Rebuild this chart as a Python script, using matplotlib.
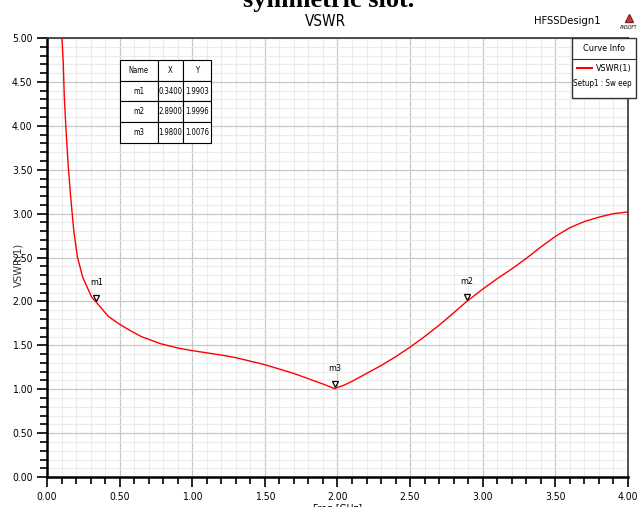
import matplotlib
matplotlib.use("Agg")
import matplotlib.pyplot as plt
import numpy as np
from matplotlib.ticker import MultipleLocator, FormatStrFormatter
from matplotlib.lines import Line2D
from matplotlib.patches import Rectangle

# VSWR(1) curve
freq = [0.100, 0.112, 0.119, 0.131, 0.145, 0.163, 0.184, 0.209, 0.245, 0.307, 0.34,
        0.422, 0.50, 0.571, 0.65, 0.78, 0.90, 1.00, 1.10, 1.20, 1.30, 1.40, 1.50,
        1.60, 1.70, 1.80, 1.90, 1.98, 2.05, 2.10, 2.20, 2.30, 2.40, 2.50, 2.60,
        2.70, 2.80, 2.89, 3.00, 3.10, 3.20, 3.30, 3.40, 3.50, 3.60, 3.70, 3.80,
        3.90, 4.00]
vswr = [5.10, 4.71, 4.33, 3.95, 3.57, 3.19, 2.81, 2.51, 2.28, 2.05, 1.99,
        1.83, 1.74, 1.67, 1.60, 1.52, 1.47, 1.44, 1.415, 1.39, 1.36, 1.32, 1.28,
        1.23, 1.18, 1.12, 1.06, 1.0076, 1.05, 1.09, 1.18, 1.27, 1.37, 1.48, 1.60,
        1.73, 1.87, 2.00, 2.14, 2.26, 2.37, 2.49, 2.62, 2.74, 2.84, 2.91, 2.96,
        3.00, 3.02]

marker_names = ["m1", "m2", "m3"]
marker_x = [0.3400, 2.8900, 1.9800]
marker_y = [1.9903, 1.9996, 1.0076]

plt.rcParams["font.family"] = ["DejaVu Sans"]
plt.rcParams["font.stretch"] = "condensed"

fig = plt.figure(figsize=(6.44, 5.07), dpi=100)
ax = fig.add_axes([0.073, 0.059, 0.902, 0.866])

ax.plot(freq, vswr, color="#ff0000", lw=1.0, zorder=3)
ax.set_xlim(0, 4)
ax.set_ylim(0, 5)

ax.xaxis.set_major_locator(MultipleLocator(0.5))
ax.xaxis.set_minor_locator(MultipleLocator(0.1))
ax.yaxis.set_major_locator(MultipleLocator(0.5))
ax.yaxis.set_minor_locator(MultipleLocator(0.1))
ax.xaxis.set_major_formatter(FormatStrFormatter("%.2f"))
ax.yaxis.set_major_formatter(FormatStrFormatter("%.2f"))
ax.grid(which="minor", color="#ebebeb", lw=0.8, zorder=0)
ax.grid(which="major", color="#c8c8c8", lw=0.9, zorder=0)
ax.tick_params(which="both", direction="out", labelsize=7.5, width=1.2, color="black")
ax.tick_params(which="major", length=7)
ax.tick_params(which="minor", length=5)
for s in ["left", "bottom"]:
    ax.spines[s].set_linewidth(1.8)
for s in ["top", "right"]:
    ax.spines[s].set_linewidth(1.2)
    ax.spines[s].set_color("#333333")

ax.set_xlabel("Freq [GHz]", fontsize=7.5, labelpad=2)
fig.text(18 / 644, 1 - 265 / 507, "VSWR(1)", rotation=90, ha="center", va="center",
         fontsize=8, color="#333333")

# markers
for name, mx, my in zip(marker_names, marker_x, marker_y):
    ax.plot(mx, my + 0.05, marker="v", ms=5, mfc="white", mec="black", mew=0.9, zorder=4)
    ax.annotate(name, (mx, my), xytext=(0, 11), textcoords="offset points",
                ha="center", va="bottom", fontsize=6.5)

# marker table
cells = [[n, "%.4f" % x, "%.4f" % y] for n, x, y in zip(marker_names, marker_x, marker_y)]
tab = ax.table(cellText=cells, colLabels=["Name", "X", "Y"],
               colWidths=[0.41, 0.28, 0.31], cellLoc="center",
               bbox=[0.126, 0.761, 0.157, 0.189], zorder=5)
tab.auto_set_font_size(False)
for (r, c), cell in tab.get_celld().items():
    cell.set_facecolor("white")
    cell.set_linewidth(0.8)
    cell.PAD = 0.02
    cell.get_text().set_fontsize(5.5)

# titles
fig.text(0.51, 1.0, "symmetric slot.", ha="center", va="center", fontsize=19,
         fontweight="bold", family="Liberation Serif", stretch="normal")
fig.text(0.505, 0.958, "VSWR", ha="center", va="center", fontsize=11)
fig.text(0.932, 0.958, "HFSSDesign1", ha="right", va="center", fontsize=8)
fig.text(0.976, 0.945, "ANSOFT", ha="center", va="center", fontsize=3.5)
fig.lines.append(Line2D([0.976], [0.964], transform=fig.transFigure, marker="^",
                        ms=6, color="#b03030", mfc="#c04040", mec="#902020"))

# curve info box
x0, x1 = 572 / 644, 636 / 644
yt, ym, yb = 1 - 38 / 507, 1 - 59 / 507, 1 - 98 / 507
fig.patches.append(Rectangle((x0, yb), x1 - x0, yt - yb, transform=fig.transFigure,
                             fc="white", ec="#333333", lw=1.0, zorder=6))
fig.lines.append(Line2D([x0, x1], [ym, ym], transform=fig.transFigure, color="#333333",
                        lw=0.8, zorder=7))
fig.text((x0 + x1) / 2, (yt + ym) / 2, "Curve Info", ha="center", va="center",
         fontsize=6.5, zorder=8)
fig.lines.append(Line2D([577 / 644, 592 / 644], [1 - 68 / 507, 1 - 68 / 507],
                        transform=fig.transFigure, color="#ff0000", lw=1.5, zorder=7))
fig.text(632 / 644, 1 - 68 / 507, "VSWR(1)", ha="right", va="center", fontsize=6.5, zorder=8)
fig.text(632 / 644, 1 - 83 / 507, "Setup1 : Sw eep", ha="right", va="center",
         fontsize=5.8, zorder=8)

fig.savefig("out.png", dpi=100)
